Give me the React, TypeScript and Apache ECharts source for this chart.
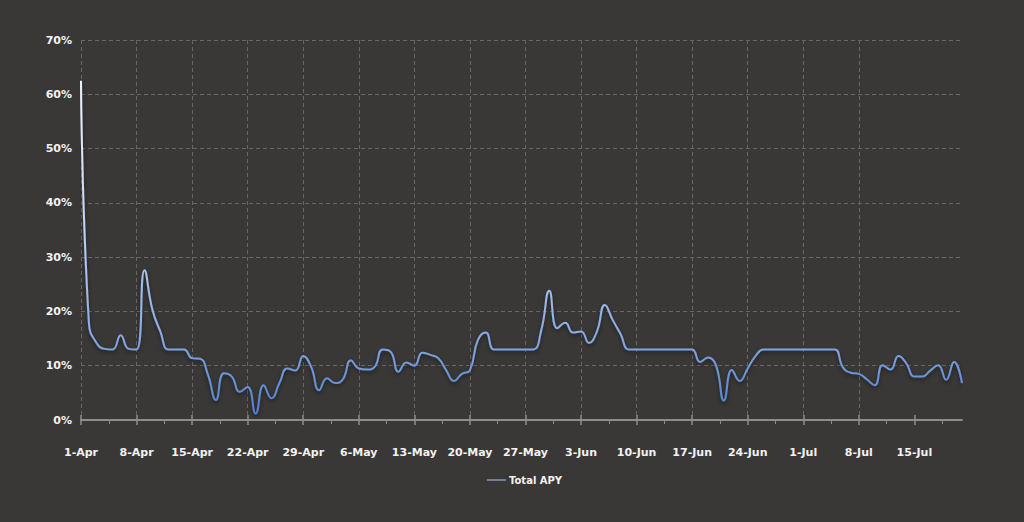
import React, { useEffect, useRef } from "react";
import * as echarts from "echarts";

const months = ["Apr", "May", "Jun", "Jul"];
const monthDays = [30, 31, 30, 31];

const apy = [
  62.5, 17.8, 14.1, 13.1, 13.0, 15.6, 13.1, 13.0, 27.6, 20.3,
  16.3, 13.0, 13.0, 13.0, 11.4, 11.3, 8.3, 3.7, 8.6, 8.0,
  5.2, 6.1, 1.2, 6.4, 4.0, 6.8, 9.5, 9.1, 11.8, 9.8,
  5.5, 7.7, 6.8, 7.5, 11.0, 9.5, 9.3, 9.8, 13.0, 12.6,
  8.9, 10.6, 10.0, 12.4, 12.0, 11.4, 9.2, 7.2, 8.5, 9.2,
  14.7, 16.1, 13.0, 13.0, 13.0, 13.0, 13.0, 13.0, 16.6, 23.8,
  16.9, 17.9, 16.1, 16.3, 14.2, 16.3, 21.2, 18.4, 15.8, 13.0,
  13.0, 13.0, 13.0, 13.0, 13.0, 13.0, 13.0, 13.0, 10.7, 11.5,
  10.1, 3.6, 9.2, 7.2, 9.5, 11.8, 13.0, 13.0, 13.0, 13.0,
  13.0, 13.0, 13.0, 13.0, 13.0, 13.0, 9.7, 8.7, 8.5, 7.5,
  6.4, 10.1, 9.3, 11.8, 10.4, 8.0, 8.0, 9.1, 10.1, 7.4,
  10.7, 6.8,
];

const tickLabels = [
  "1-Apr", "8-Apr", "15-Apr", "22-Apr", "29-Apr", "6-May", "13-May", "20-May",
  "27-May", "3-Jun", "10-Jun", "17-Jun", "24-Jun", "1-Jul", "8-Jul", "15-Jul",
];

const yTicks = [0, 10, 20, 30, 40, 50, 60, 70];

// daily category labels (1-Apr ...)
const dates: string[] = [];
for (let m = 0; m < months.length; m++) {
  for (let d = 1; d <= monthDays[m]; d++) dates.push(`${d}-${months[m]}`);
}

const FONT = "DejaVu Sans";
const TEXT = "#f2f2f2";
const AXIS = "#8e8c8a";
const GRID = "#686662";

export default function App() {
  const ref = useRef<HTMLDivElement>(null);
  useEffect(() => {
    document.body.style.margin = "0";
    if (!ref.current) return;
    const chart = echarts.init(ref.current, undefined, { renderer: "svg" });
    const maxDay = apy.length - 1;
    const majorIdx = tickLabels.map((l) => dates.indexOf(l));
    const minorIdx = majorIdx.map((i) => i + 3.5).filter((v) => v < maxDay);
    const data = apy.map((v, i) => [i, v]);
    const baseX = {
      type: "value",
      min: 0,
      max: maxDay,
      interval: 7,
      position: "bottom",
    };
    chart.setOption({
      animation: false,
      backgroundColor: "#3a3837",
      textStyle: { fontFamily: FONT },
      grid: { left: 81, right: 62, top: 40, bottom: 102, containLabel: false },
      legend: {
        left: 487,
        top: 475,
        padding: 0,
        itemWidth: 19,
        itemHeight: 14,
        itemGap: 10,
        textStyle: { color: TEXT, fontFamily: FONT, fontWeight: "bold", fontSize: 10, padding: [0, 0, 0, -2] },
        data: [
          {
            name: "Total APY",
            icon: "path://M0,0 L20,0 L20,1 L0,1 Z",
            itemStyle: { color: "#b8cdf2" },
          },
        ],
      },
      xAxis: [
        {
          ...baseX,
          axisLine: { show: true, lineStyle: { color: AXIS, width: 2 } },
          axisTick: {
            show: true,
            length: 5,
            customValues: majorIdx,
            lineStyle: { color: AXIS, width: 1.5 },
          },
          axisLabel: {
            show: true,
            customValues: majorIdx,
            margin: 27,
            color: TEXT,
            fontFamily: FONT,
            fontWeight: "bold",
            fontSize: 11,
            formatter: (v: number) => dates[Math.round(v)] ?? "",
          },
          splitLine: {
            show: true,
            showMaxLine: false,
            lineStyle: { color: GRID, type: [4, 3], width: 1 },
          },
        },
        {
          ...baseX,
          axisLine: { show: false },
          axisTick: {
            show: true,
            inside: true,
            length: 5,
            customValues: majorIdx,
            lineStyle: { color: AXIS, width: 1.5 },
          },
          axisLabel: { show: false },
          splitLine: { show: false },
        },
        {
          ...baseX,
          axisLine: { show: false },
          axisTick: {
            show: true,
            length: 4,
            customValues: minorIdx,
            lineStyle: { color: AXIS, width: 1 },
          },
          axisLabel: { show: false },
          splitLine: { show: false },
        },
      ],
      yAxis: {
        type: "value",
        min: yTicks[0],
        max: yTicks[yTicks.length - 1],
        interval: 10,
        axisLine: { show: false },
        axisTick: { show: false },
        axisLabel: {
          margin: 9,
          color: TEXT,
          fontFamily: FONT,
          fontWeight: "bold",
          fontSize: 11,
          formatter: "{value}%",
        },
        splitLine: { show: true, lineStyle: { color: GRID, type: [4, 3], width: 1 } },
      },
      series: [
        {
          name: "Total APY",
          type: "line",
          xAxisIndex: 0,
          data,
          smooth: 0.5,
          symbol: "none",
          showSymbol: false,
          lineStyle: {
            width: 2,
            color: new echarts.graphic.LinearGradient(0, 0, 0, 1, [
              { offset: 0, color: "#f0f5fe" },
              { offset: 0.45, color: "#bed3f4" },
              { offset: 0.75, color: "#8aaee6" },
              { offset: 1, color: "#4f7fcf" },
            ]),
            shadowColor: "rgba(0,0,0,0.55)",
            shadowBlur: 4,
            shadowOffsetY: 2,
          },
          itemStyle: { color: "#b8cdf2" },
        },
      ],
    });
    return () => chart.dispose();
  }, []);
  return <div ref={ref} style={{ width: 1024, height: 522 }} />;
}
